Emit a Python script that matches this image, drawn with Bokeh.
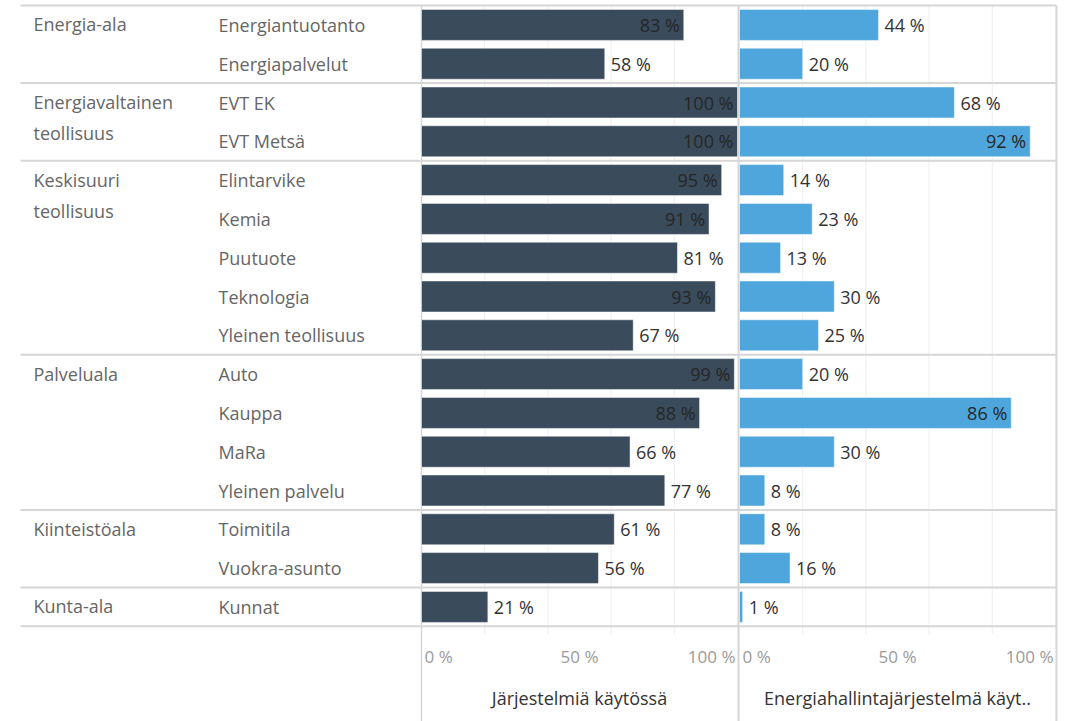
from bokeh.plotting import figure
from bokeh.models import Range1d, ColumnDataSource
from bokeh.core.properties import value
from bokeh.embed import file_html
from bokeh.resources import INLINE

# ---- data ----
groups = ["Energia-ala", "Energiavaltainen\nteollisuus", "Keskisuuri\nteollisuus",
          "Palveluala", "Kiinteistöala", "Kunta-ala"]
group_sizes = [2, 2, 5, 4, 2, 1]
subcategories = ["Energiantuotanto", "Energiapalvelut", "EVT EK", "EVT Metsä",
                 "Elintarvike", "Kemia", "Puutuote", "Teknologia", "Yleinen teollisuus",
                 "Auto", "Kauppa", "MaRa", "Yleinen palvelu",
                 "Toimitila", "Vuokra-asunto", "Kunnat"]
jarjestelmia = [83, 58, 100, 100, 95, 91, 81, 93, 67, 99, 88, 66, 77, 61, 56, 21]
energiahallinta = [44, 20, 68, 92, 14, 23, 13, 30, 25, 20, 86, 30, 8, 8, 16, 1]
tick_values = [0, 50, 100]
tick_labels = ["0 %", "50 %", "100 %"]
grid_values = [20, 40, 60, 80]
axis_titles = ["Järjestelmiä käytössä", "Energiahallintajärjestelmä käyt.."]

# ---- layout constants (pixels) ----
W, H = 1071, 721
ROW = 38.8
TOP = 5
PX_PER_PCT = 3.16
LEFT0 = 421
RIGHT0 = 739

def ypx(py):
    return (py - TOP) / ROW - 0.5

FONT = value("Open Sans")
DARK = "#3a4b5c"
BLUE = "#4ea6dc"
LABEL_SIZE = "18px"

p = figure(width=W, height=H, output_backend="svg", toolbar_location=None,
           x_range=Range1d(-LEFT0 / PX_PER_PCT, (W - LEFT0) / PX_PER_PCT),
           y_range=Range1d(ypx(H), ypx(0)),
           min_border=0, outline_line_color=None, background_fill_color="white")
p.extra_x_ranges = {
    "right": Range1d(-RIGHT0 / PX_PER_PCT, (W - RIGHT0) / PX_PER_PCT),
    "px": Range1d(0, W),
}
p.axis.visible = False
p.xgrid.visible = False
p.ygrid.visible = False

n = len(subcategories)
rows = list(range(n))

# gridlines
grid_bottom = ypx(634)
for rng in ("default", "right"):
    p.segment(x0=grid_values, x1=grid_values, y0=[-0.5] * 4, y1=[grid_bottom] * 4,
              line_color="#eeeeee", line_width=1, x_range_name=rng)

# group separators
bounds = [-0.5]
acc = -0.5
for g in group_sizes:
    acc += g
    bounds.append(acc)
p.segment(x0=[20] * len(bounds), x1=[1056] * len(bounds), y0=bounds, y1=bounds,
          line_color="#d6d6d6", line_width=2, x_range_name="px")

# panel borders
p.segment(x0=[0], x1=[0], y0=[-0.5], y1=[ypx(H)], line_color="#d6d6d6", line_width=1.5)
p.segment(x0=[-0.3, 100.3], x1=[-0.3, 100.3], y0=[-0.5, -0.5], y1=[ypx(H), ypx(H)],
          line_color="#d6d6d6", line_width=2, x_range_name="right")

# bars
src = ColumnDataSource(dict(y=rows, j=jarjestelmia, e=energiahallinta))
p.hbar(y="y", left=0, right="j", height=0.8, source=src, fill_color=DARK,
       line_color="white", line_width=0.5)
p.hbar(y="y", left=0, right="e", height=0.8, source=src, fill_color=BLUE,
       line_color="white", line_width=0.5, x_range_name="right")

# value labels
def value_labels(vals, rng, thresh):
    inside = [(v, i) for i, v in enumerate(vals) if v >= thresh]
    outside = [(v, i) for i, v in enumerate(vals) if v < thresh]
    if inside:
        p.text(x=[v for v, _ in inside], y=[i for _, i in inside],
               text=[f"{v} %" for v, _ in inside], x_offset=-4,
               text_align="right", text_baseline="middle", text_font=FONT,
               text_font_size=LABEL_SIZE, text_color="#262626", x_range_name=rng)
    if outside:
        p.text(x=[v for v, _ in outside], y=[i for _, i in outside],
               text=[f"{v} %" for v, _ in outside], x_offset=6,
               text_align="left", text_baseline="middle", text_font=FONT,
               text_font_size=LABEL_SIZE, text_color="#333333", x_range_name=rng)

value_labels(jarjestelmia, "default", 82)
value_labels(energiahallinta, "right", 82)

# category labels
p.text(x=[218] * n, y=rows, text=subcategories, text_align="left",
       text_baseline="middle", text_font=FONT, text_font_size=LABEL_SIZE,
       text_color="#666666", x_range_name="px")
starts = []
acc = 0
for g in group_sizes:
    starts.append(acc)
    acc += g
p.text(x=[33] * len(groups), y=[s - 0.32 for s in starts], text=groups,
       text_align="left", text_baseline="top", text_font=FONT, text_font_size=LABEL_SIZE,
       text_line_height=1.3, text_color="#666666", x_range_name="px")

# axis tick labels
aligns = ["left", "center", "right"]
offs = [3, 0, -2]
for rng in ("default", "right"):
    for tv, tl, al, of in zip(tick_values, tick_labels, aligns, offs):
        p.text(x=[tv], y=[ypx(656)], text=[tl], x_offset=of, text_align=al,
               text_baseline="middle", text_font=FONT, text_font_size="17px",
               text_color="#9a9a9a", x_range_name=rng)

# axis titles
p.text(x=[50], y=[ypx(697)], text=[axis_titles[0]], text_align="center",
       text_baseline="middle", text_font=FONT, text_font_size="18px",
       text_color="#333333")
p.text(x=[50], y=[ypx(697)], text=[axis_titles[1]], text_align="center",
       text_baseline="middle", text_font=FONT, text_font_size="18px",
       text_color="#333333", x_range_name="right")

open("out.html", "w").write(file_html(p, INLINE))
